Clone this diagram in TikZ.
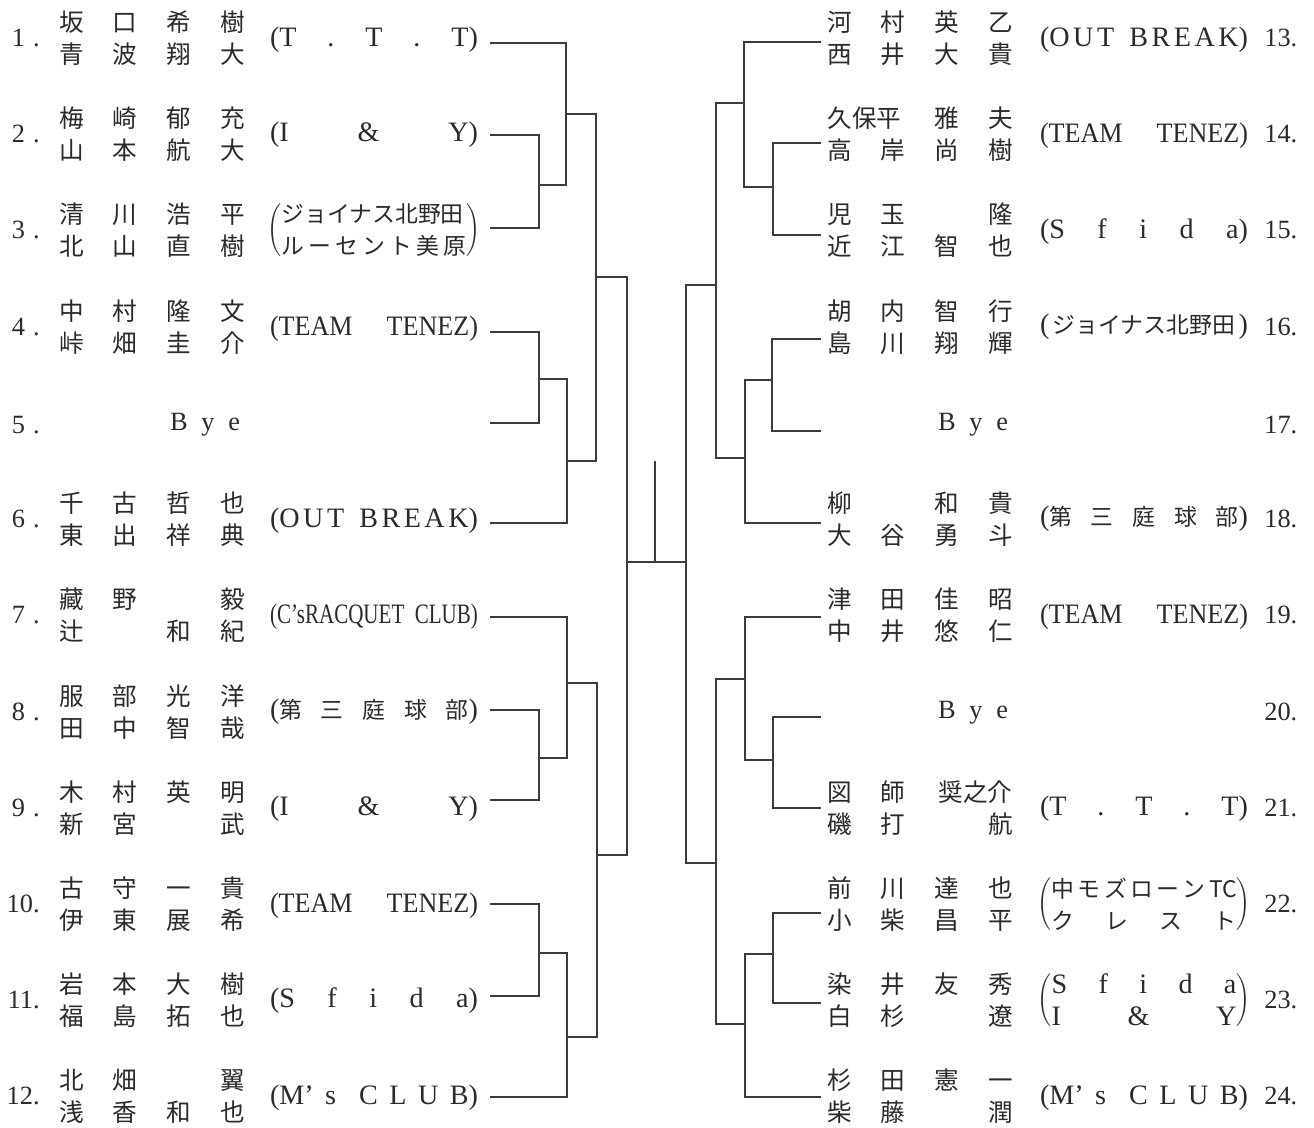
\documentclass[tikz,border=0pt]{standalone}
\usepackage{fontspec}
\usepackage{graphicx}
\setmainfont{Liberation Serif}
\newfontfamily\jp{Noto Sans CJK JP}
\definecolor{ink}{HTML}{2A2A2A}
\definecolor{wire}{HTML}{3C3C3C}
% name columns and team label widths
\newlength\colw \setlength\colw{1.076cm}
\newlength\teamw \setlength\teamw{4.16cm}
\newlength\pairw \setlength\pairw{3.7cm}
\newcommand\cl[1]{\makebox[\colw]{#1}}
\newcommand\nm[4]{\cl{#1}\cl{#2}\cl{#3}\cl{#4}}
\newcommand\lw[1]{\makebox[2\colw][l]{\hspace{.3cm}#1}}
\newcommand\rw[1]{\makebox[2\colw][r]{#1\hspace{.3cm}}}
\newcommand\jt{\jp\fontsize{13}{18}\selectfont}
\newcommand\tm[1]{\makebox[\teamw][s]{#1}}
\newcommand\tfit[1]{\resizebox{\teamw}{\height}{#1}}
\newcommand\tpair[2]{$\left(\vcenter{\hbox{\makebox[\pairw][s]{#1}}\hbox{\makebox[\pairw][s]{#2}}}\right)$}
\newcommand\ob{(O\kern2pt U\kern2pt T B\kern2pt R\kern2pt E\kern2pt A\kern2pt K)}
\begin{document}
\begin{tikzpicture}[x=0.02cm, y=-0.02cm,
    every node/.style={text=ink},
    num/.style={font=\fontsize{15}{18}\selectfont, inner sep=0pt},
    names/.style={font=\jp\fontsize{14}{18.2}\selectfont, inner sep=0pt, align=left},
    team/.style={font=\fontsize{16}{18}\selectfont, inner sep=0pt},
    bye/.style={font=\fontsize{15}{18}\selectfont, inner sep=0pt},
    bracket/.style={draw=wire, line width=0.7pt}]
    \useasboundingbox (0,0) rectangle (1314,1128);

    % left half
    \node[num, anchor=east] (n1) at (40,38) {1\hspace{.3em}.};
    \node[names] (p1) at (152,38) {\nm{坂}{口}{希}{樹}\\\nm{青}{波}{翔}{大}};
    \node[team] (t1) at (374,40) {\tm{(T . T . T)}};
    \node[num, anchor=east] (n2) at (40,134) {2\hspace{.3em}.};
    \node[names] (p2) at (152,134) {\nm{梅}{崎}{郁}{充}\\\nm{山}{本}{航}{大}};
    \node[team] (t2) at (374,135) {\tm{(I \& Y)}};
    \node[num, anchor=east] (n3) at (40,230) {3\hspace{.3em}.};
    \node[names] (p3) at (152,230) {\nm{清}{川}{浩}{平}\\\nm{北}{山}{直}{樹}};
    \node[team] (t3) at (374,230) {\tpair{\jt ジョイナス北野田}{\jt ル ー セ ン ト 美 原}};
    \node[num, anchor=east] (n4) at (40,327) {4\hspace{.3em}.};
    \node[names] (p4) at (152,327) {\nm{中}{村}{隆}{文}\\\nm{峠}{畑}{圭}{介}};
    \node[team] (t4) at (374,329) {\tfit{(TEAM\hspace{1.3em}TENEZ)}};
    \node[num, anchor=east] (n5) at (40,425) {5\hspace{.3em}.};
    \node[bye] (b5) at (205,425) {\makebox[1.4cm][s]{B y e}};
    \node[num, anchor=east] (n6) at (40,519) {6\hspace{.3em}.};
    \node[names] (p6) at (152,519) {\nm{千}{古}{哲}{也}\\\nm{東}{出}{祥}{典}};
    \node[team] (t6) at (374,521) {\tm{\ob}};
    \node[num, anchor=east] (n7) at (40,615) {7\hspace{.3em}.};
    \node[names] (p7) at (152,615) {\nm{藏}{野}{}{毅}\\\nm{辻}{}{和}{紀}};
    \node[team] (t7) at (374,617) {\tfit{(C'sRACQUET\hspace{.5em}CLUB)}};
    \node[num, anchor=east] (n8) at (40,712) {8\hspace{.3em}.};
    \node[names] (p8) at (152,712) {\nm{服}{部}{光}{洋}\\\nm{田}{中}{智}{哉}};
    \node[team] (t8) at (374,712) {\tm{({\jt 第 三 庭 球 部})}};
    \node[num, anchor=east] (n9) at (40,808) {9\hspace{.3em}.};
    \node[names] (p9) at (152,808) {\nm{木}{村}{英}{明}\\\nm{新}{宮}{}{武}};
    \node[team] (t9) at (374,809) {\tm{(I \& Y)}};
    \node[num, anchor=east] (n10) at (40,904) {10.};
    \node[names] (p10) at (152,904) {\nm{古}{守}{一}{貴}\\\nm{伊}{東}{展}{希}};
    \node[team] (t10) at (374,906) {\tfit{(TEAM\hspace{1.3em}TENEZ)}};
    \node[num, anchor=east] (n11) at (40,1000) {11.};
    \node[names] (p11) at (152,1000) {\nm{岩}{本}{大}{樹}\\\nm{福}{島}{拓}{也}};
    \node[team] (t11) at (374,1001) {\tm{(S f i d a)}};
    \node[num, anchor=east] (n12) at (40,1096) {12.};
    \node[names] (p12) at (152,1096) {\nm{北}{畑}{}{翼}\\\nm{浅}{香}{和}{也}};
    \node[team] (t12) at (374,1098) {\tm{(M' s\ \ C L U B)}};

    % right half
    \node[names] (p13) at (920,38) {\nm{河}{村}{英}{乙}\\\nm{西}{井}{大}{貴}};
    \node[team] (t13) at (1144,40) {\tm{\ob}};
    \node[num, anchor=west] (n13) at (1264,38) {13.};
    \node[names] (p14) at (920,134) {\lw{久保平}\cl{雅}\cl{夫}\\\nm{高}{岸}{尚}{樹}};
    \node[team] (t14) at (1144,136) {\tfit{(TEAM\hspace{1.3em}TENEZ)}};
    \node[num, anchor=west] (n14) at (1264,134) {14.};
    \node[names] (p15) at (920,230) {\nm{児}{玉}{}{隆}\\\nm{近}{江}{智}{也}};
    \node[team] (t15) at (1144,232) {\tm{(S f i d a)}};
    \node[num, anchor=west] (n15) at (1264,230) {15.};
    \node[names] (p16) at (920,327) {\nm{胡}{内}{智}{行}\\\nm{島}{川}{翔}{輝}};
    \node[team] (t16) at (1144,327) {\tm{(\hfill{\jt ジョイナス北野田}\hfill)}};
    \node[num, anchor=west] (n16) at (1264,327) {16.};
    \node[bye] (b17) at (973,425) {\makebox[1.4cm][s]{B y e}};
    \node[num, anchor=west] (n17) at (1264,425) {17.};
    \node[names] (p18) at (920,519) {\nm{柳}{}{和}{貴}\\\nm{大}{谷}{勇}{斗}};
    \node[team] (t18) at (1144,519) {\tm{({\jt 第 三 庭 球 部})}};
    \node[num, anchor=west] (n18) at (1264,519) {18.};
    \node[names] (p19) at (920,615) {\nm{津}{田}{佳}{昭}\\\nm{中}{井}{悠}{仁}};
    \node[team] (t19) at (1144,617) {\tfit{(TEAM\hspace{1.3em}TENEZ)}};
    \node[num, anchor=west] (n19) at (1264,615) {19.};
    \node[bye] (b20) at (973,713) {\makebox[1.4cm][s]{B y e}};
    \node[num, anchor=west] (n20) at (1264,712) {20.};
    \node[names] (p21) at (920,808) {\cl{図}\cl{師}\rw{奨之介}\\\nm{磯}{打}{}{航}};
    \node[team] (t21) at (1144,809) {\tm{(T . T . T)}};
    \node[num, anchor=west] (n21) at (1264,808) {21.};
    \node[names] (p22) at (920,904) {\nm{前}{川}{達}{也}\\\nm{小}{柴}{昌}{平}};
    \node[team] (t22) at (1144,904) {\tpair{\jt 中 モ ズ ロ ー ン TC}{\jt ク レ ス ト}};
    \node[num, anchor=west] (n22) at (1264,904) {22.};
    \node[names] (p23) at (920,1000) {\nm{染}{井}{友}{秀}\\\nm{白}{杉}{}{遼}};
    \node[team] (t23) at (1144,1000) {\tpair{S f i d a}{I \& Y}};
    \node[num, anchor=west] (n23) at (1264,1000) {23.};
    \node[names] (p24) at (920,1096) {\nm{杉}{田}{憲}{一}\\\nm{柴}{藤}{}{潤}};
    \node[team] (t24) at (1144,1098) {\tm{(M' s\ \ C L U B)}};
    \node[num, anchor=west] (n24) at (1264,1096) {24.};

    % entry line ends
    \coordinate (e1) at (490,43);   \coordinate (e13) at (821,42);
    \coordinate (e2) at (490,135);  \coordinate (e14) at (821,143);
    \coordinate (e3) at (490,228);  \coordinate (e15) at (821,235);
    \coordinate (e4) at (490,332);  \coordinate (e16) at (821,339);
    \coordinate (e5) at (490,423);  \coordinate (e17) at (821,431);
    \coordinate (e6) at (490,523);  \coordinate (e18) at (821,523);
    \coordinate (e7) at (490,617);  \coordinate (e19) at (821,617);
    \coordinate (e8) at (490,710);  \coordinate (e20) at (821,717);
    \coordinate (e9) at (490,800);  \coordinate (e21) at (821,808);
    \coordinate (e10) at (490,904); \coordinate (e22) at (821,913);
    \coordinate (e11) at (490,996); \coordinate (e23) at (821,1003);
    \coordinate (e12) at (490,1097);\coordinate (e24) at (821,1097);

    % match points
    \coordinate (m2) at (539,185);  \coordinate (m14) at (773,187);
    \coordinate (m1) at (566,114);  \coordinate (m13) at (744,103);
    \coordinate (m4) at (539,379);  \coordinate (m16) at (772,380);
    \coordinate (m6) at (567,461);  \coordinate (m18) at (745,458);
    \coordinate (qa) at (596,277);  \coordinate (qc) at (716,285);
    \coordinate (m8) at (539,758);  \coordinate (m20) at (773,760);
    \coordinate (m7) at (567,683);  \coordinate (m19) at (745,679);
    \coordinate (m10) at (539,953); \coordinate (m22) at (773,954);
    \coordinate (m12) at (567,1037);\coordinate (m24) at (745,1024);
    \coordinate (qb) at (597,855);  \coordinate (qd) at (716,863);
    \coordinate (sl) at (627,562);  \coordinate (sr) at (686,562);
    \coordinate (fin) at (655,562); \coordinate (top) at (655,461);

    \draw[bracket] (e2) -| (m2) |- (e3);
    \draw[bracket] (e1) -| (m1) |- (m2);
    \draw[bracket] (e4) -| (m4) |- (e5);
    \draw[bracket] (m4) -| (m6) |- (e6);
    \draw[bracket] (m1) -| (qa) |- (m6);
    \draw[bracket] (e8) -| (m8) |- (e9);
    \draw[bracket] (e7) -| (m7) |- (m8);
    \draw[bracket] (e10) -| (m10) |- (e11);
    \draw[bracket] (m10) -| (m12) |- (e12);
    \draw[bracket] (m7) -| (qb) |- (m12);
    \draw[bracket] (qa) -| (sl) |- (qb);

    \draw[bracket] (e14) -| (m14) |- (e15);
    \draw[bracket] (e13) -| (m13) |- (m14);
    \draw[bracket] (e16) -| (m16) |- (e17);
    \draw[bracket] (m16) -| (m18) |- (e18);
    \draw[bracket] (m13) -| (qc) |- (m18);
    \draw[bracket] (e20) -| (m20) |- (e21);
    \draw[bracket] (e19) -| (m19) |- (m20);
    \draw[bracket] (e22) -| (m22) |- (e23);
    \draw[bracket] (m22) -| (m24) |- (e24);
    \draw[bracket] (m19) -| (qd) |- (m24);
    \draw[bracket] (qc) -| (sr) |- (qd);

    \draw[bracket] (sl) -- (sr);
    \draw[bracket] (fin) -- (top);
\end{tikzpicture}
\end{document}
